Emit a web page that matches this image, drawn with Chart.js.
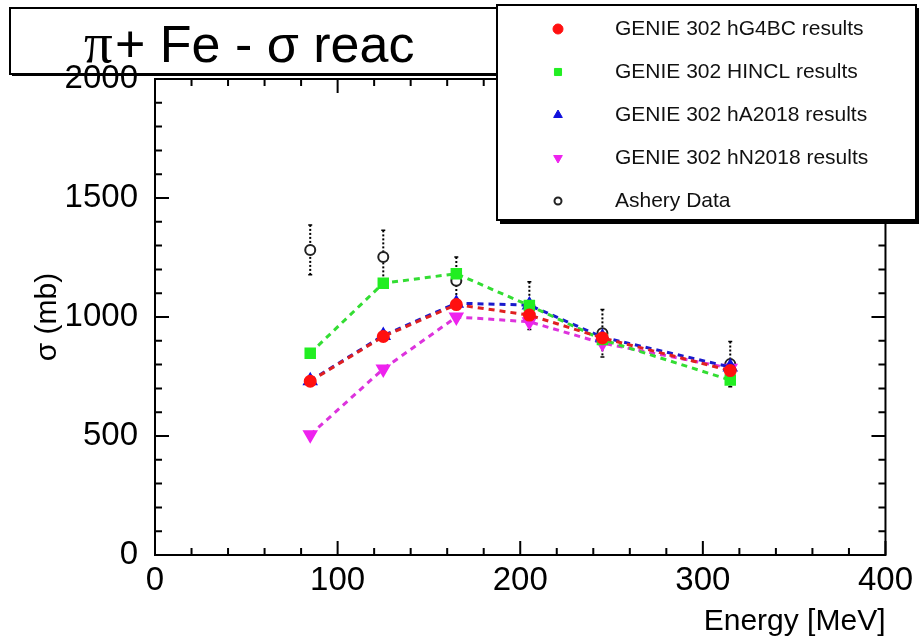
<!DOCTYPE html>
<html>
<head>
<meta charset="utf-8">
<script src="https://cdn.jsdelivr.net/npm/chart.js@4/dist/chart.umd.min.js"></script>
<style>
  body { margin: 0; background: #fff; }
  canvas { display: block; }
</style>
</head>
<body>
<canvas id="myChart" width="919" height="640"></canvas>
<script>
// energies in MeV
const energies = [85, 125, 165, 205, 245, 315]
const hG4BC = [730, 918, 1052, 1008, 912, 775]
const hINCL = [848, 1142, 1182, 1048, 905, 735]
const hA2018 = [732, 922, 1058, 1050, 915, 790]
const hN2018 = [505, 782, 1000, 980, 890, 785]
const ashery = [1282, 1252, 1152, 1048, 932, 802]
const asheryErr = [105, 112, 100, 100, 100, 95]

const xTicks = [0, 100, 200, 300, 400]
const yTicks = [0, 500, 1000, 1500, 2000]

const seriesNames = ['GENIE 302 hG4BC results', 'GENIE 302 HINCL results', 'GENIE 302 hA2018 results', 'GENIE 302 hN2018 results', 'Ashery Data']

function pts(arr){
    return energies.map((e, i) => ({x: e, y: arr[i]}))
}

function mkLine(label, arr, col, lineCol, style, r, rot){
    return {
        label: label,
        data: pts(arr),
        borderColor: lineCol,
        backgroundColor: col,
        pointBackgroundColor: col,
        pointBorderColor: col,
        pointStyle: style,
        pointRadius: r,
        pointRotation: rot || 0,
        borderWidth: 3,
        borderDash: [6, 5],
        tension: 0,
        showLine: true
    }
}

const datasets = [
    mkLine(seriesNames[0], hG4BC, '#ff1010', '#e02020', 'circle', 5),
    mkLine(seriesNames[1], hINCL, '#22ee22', '#33dd33', 'rect', 6),
    mkLine(seriesNames[2], hA2018, '#1010dd', '#1a1acc', 'triangle', 6),
    mkLine(seriesNames[3], hN2018, '#ee22ee', '#dd33dd', 'triangle', 6, 180),
    {
        label: seriesNames[4],
        data: pts(ashery),
        showLine: false,
        pointStyle: 'circle',
        pointRadius: 5,
        pointBorderWidth: 2,
        pointBorderColor: '#222',
        pointBackgroundColor: '#fff'
    }
]

// error bars, frame, inward ticks, title box and legend box
const rootStyle = {
    id: 'rootStyle',
    beforeDraw(chart){
        // title box goes under the axis labels
        const ctx = chart.ctx
        ctx.save()
        ctx.strokeStyle = '#000'
        ctx.lineWidth = 2
        ctx.fillStyle = '#000'
        ctx.fillRect(12, 10, 487, 66)
        ctx.fillStyle = '#fff'
        ctx.fillRect(10, 8, 487, 66)
        ctx.strokeRect(10, 8, 487, 66)
        ctx.fillStyle = '#000'
        ctx.textBaseline = 'alphabetic'
        ctx.textAlign = 'left'
        ctx.font = '57px "Liberation Serif"'
        ctx.fillText('π', 84, 62)
        ctx.font = '52px "Liberation Sans"'
        ctx.fillText('+ Fe - σ reac', 115, 62)
        ctx.restore()
    },
    beforeDatasetsDraw(chart){
        const ctx = chart.ctx
        const xs = chart.scales.x, ys = chart.scales.y
        ctx.save()
        ctx.strokeStyle = '#000'
        ctx.lineWidth = 2
        ctx.setLineDash([2, 2])
        for (let i = 0; i < energies.length; i++){
            const px = xs.getPixelForValue(energies[i])
            const top = ys.getPixelForValue(ashery[i] + asheryErr[i])
            const bot = ys.getPixelForValue(ashery[i] - asheryErr[i])
            ctx.beginPath()
            ctx.moveTo(px, top)
            ctx.lineTo(px, bot)
            ctx.stroke()
        }
        ctx.setLineDash([])
        ctx.lineWidth = 1.5
        for (let i = 0; i < energies.length; i++){
            const px = xs.getPixelForValue(energies[i])
            const top = ys.getPixelForValue(ashery[i] + asheryErr[i])
            const bot = ys.getPixelForValue(ashery[i] - asheryErr[i])
            ctx.beginPath()
            ctx.moveTo(px - 2, top); ctx.lineTo(px + 2, top)
            ctx.moveTo(px - 2, bot); ctx.lineTo(px + 2, bot)
            ctx.stroke()
        }
        ctx.restore()
    },
    afterDraw(chart){
        const ctx = chart.ctx
        const a = chart.chartArea
        const xs = chart.scales.x, ys = chart.scales.y
        ctx.save()
        ctx.strokeStyle = '#000'
        ctx.lineWidth = 2
        ctx.strokeRect(a.left, a.top, a.right - a.left, a.bottom - a.top)
        ctx.beginPath()
        for (let v = 0; v <= 400; v += 20){
            const px = xs.getPixelForValue(v)
            const len = v % 100 === 0 ? 14 : 7
            ctx.moveTo(px, a.bottom); ctx.lineTo(px, a.bottom - len)
            ctx.moveTo(px, a.top); ctx.lineTo(px, a.top + len)
        }
        for (let v = 0; v <= 2000; v += 100){
            const py = ys.getPixelForValue(v)
            const len = v % 500 === 0 ? 14 : 7
            ctx.moveTo(a.left, py); ctx.lineTo(a.left + len, py)
            ctx.moveTo(a.right, py); ctx.lineTo(a.right - len, py)
        }
        ctx.stroke()

        // legend box
        ctx.fillStyle = '#000'
        ctx.fillRect(500, 8, 419, 216)
        ctx.fillStyle = '#fff'
        ctx.fillRect(497, 5, 419, 215)
        ctx.strokeRect(497, 5, 419, 215)
        ctx.font = '21px "Liberation Sans"'
        ctx.textBaseline = 'middle'
        ctx.textAlign = 'left'
        for (let i = 0; i < datasets.length; i++){
            const ds = datasets[i]
            const y = 29 + i * 43
            ctx.fillStyle = ds.pointBackgroundColor
            ctx.strokeStyle = ds.pointBorderColor
            ctx.lineWidth = ds.pointBorderWidth || 1
            Chart.helpers.drawPoint(ctx, {
                pointStyle: ds.pointStyle,
                radius: i === 4 ? 3.5 : 5,
                rotation: ds.pointRotation || 0,
                borderWidth: ds.pointBorderWidth || 1
            }, 558, y)
            ctx.fillStyle = '#111'
            ctx.fillText(ds.label, 615, y)
        }
        ctx.restore()
    }
}

const ctx = document.getElementById('myChart').getContext('2d')
const myChart = new Chart(ctx, {
    type: 'line',
    data: { datasets: datasets },
    options: {
        responsive: false,
        animation: false,
        layout: { padding: { top: 79, right: 31, left: 0, bottom: 0 } },
        plugins: { legend: { display: false }, tooltip: { enabled: false } },
        scales: {
            x: {
                type: 'linear',
                min: 0, max: 400,
                afterFit: (s) => { s.height = 85 },
                afterBuildTicks: (s) => { s.ticks = xTicks.map(v => ({value: v})) },
                grid: { display: false, tickLength: 0 },
                border: { display: false },
                ticks: { color: '#000', padding: 6, font: { size: 33, family: '"Liberation Sans"' }, maxRotation: 0, callback: (v) => String(v) },
                title: { display: true, text: 'Energy [MeV]', align: 'end', color: '#000', padding: 0, font: { size: 30, family: '"Liberation Sans"' } }
            },
            y: {
                min: 0, max: 2000,
                afterFit: (s) => { s.width = 155 },
                afterBuildTicks: (s) => { s.ticks = yTicks.map(v => ({value: v})) },
                grid: { display: false, tickLength: 0 },
                border: { display: false },
                ticks: { color: '#000', padding: 17, font: { size: 33, family: '"Liberation Sans"' }, callback: (v) => String(v) },
                title: { display: true, text: 'σ (mb)', color: '#000', padding: { top: 30, bottom: 0 }, font: { size: 30, family: '"Liberation Sans"' } }
            }
        }
    },
    plugins: [rootStyle]
})
</script>
</body>
</html>
